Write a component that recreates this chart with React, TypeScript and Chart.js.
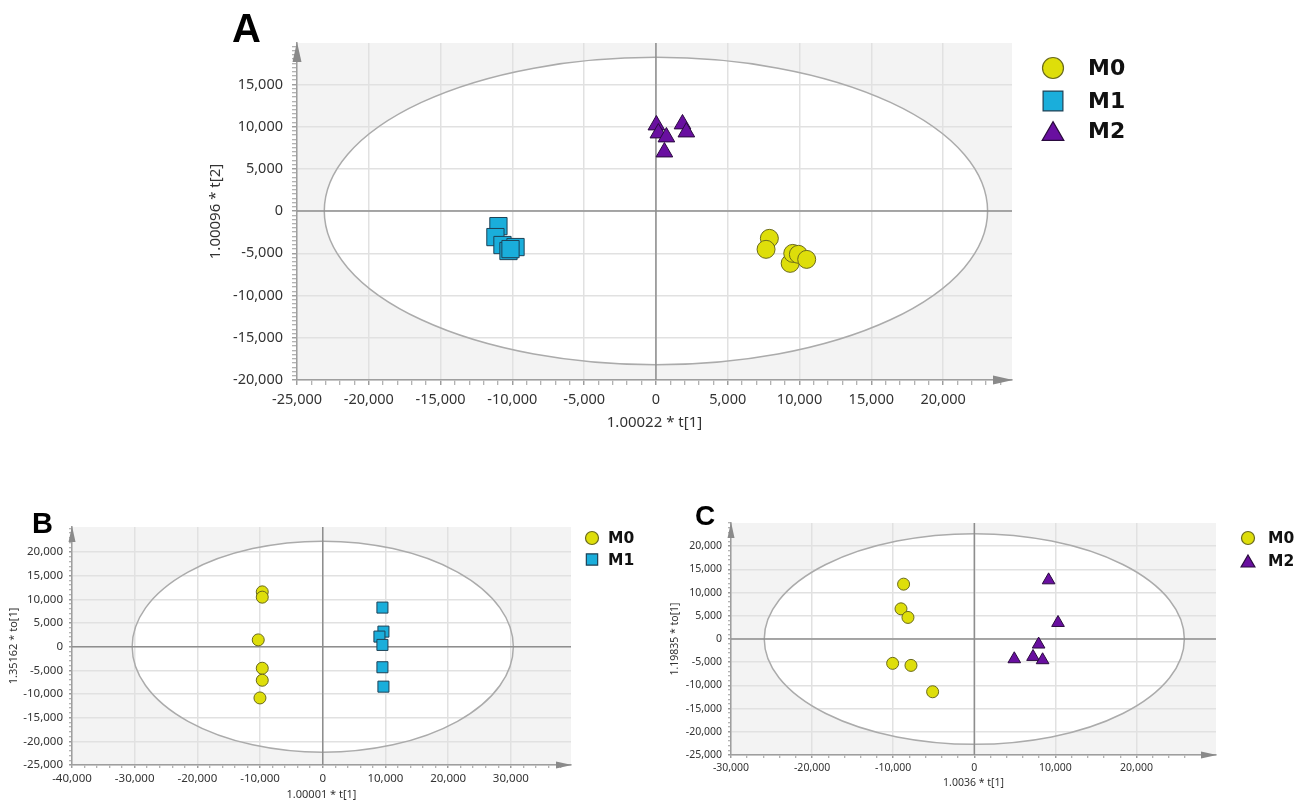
import React, { useEffect, useRef } from 'react';
import { Chart, registerables } from 'chart.js';

Chart.register(...registerables);

const W = 1302;
const H = 802;

// ---------- Panel A : PCA scores, t[1] vs t[2] ----------
const A_M0_X = [7900, 7670, 9350, 9530, 9920, 10500];
const A_M0_Y = [-3230, -4530, -6190, -5010, -5120, -5720];
const A_M1_X = [-10970, -11180, -10690, -10270, -9780, -10130];
const A_M1_Y = [-1780, -3080, -4020, -4730, -4260, -4500];
const A_M2_X = [30, 170, 730, 590, 1850, 2120];
const A_M2_Y = [10180, 9230, 8760, 6980, 10300, 9350];
const A_X_TICKS = [-25000, -20000, -15000, -10000, -5000, 0, 5000, 10000, 15000, 20000];
const A_Y_TICKS = [-20000, -15000, -10000, -5000, 0, 5000, 10000, 15000];
const A_ELLIPSE = [23100, 18200];

// ---------- Panel B : OPLS-DA M0 vs M1 ----------
const B_M0_X = [-9650, -9650, -10290, -9650, -9650, -10020];
const B_M0_Y = [11590, 10470, 1440, -4550, -7090, -10830];
const B_M1_X = [9520, 9680, 9040, 9520, 9520, 9680];
const B_M1_Y = [8270, 3190, 2140, 380, -4340, -8440];
const B_X_TICKS = [-40000, -30000, -20000, -10000, 0, 10000, 20000, 30000];
const B_Y_TICKS = [-25000, -20000, -15000, -10000, -5000, 0, 5000, 10000, 15000, 20000];
const B_ELLIPSE = [30400, 22300];

// ---------- Panel C : OPLS-DA M0 vs M2 ----------
const C_M0_X = [-8720, -9040, -8180, -10070, -7810, -5140];
const C_M0_Y = [11820, 6500, 4650, -5250, -5690, -11370];
const C_M2_X = [9160, 10320, 7930, 7240, 8420, 4930];
const C_M2_Y = [12680, 3490, -1160, -3830, -4540, -4330];
const C_X_TICKS = [-30000, -20000, -10000, 0, 10000, 20000];
const C_Y_TICKS = [-25000, -20000, -15000, -10000, -5000, 0, 5000, 10000, 15000, 20000];
const C_ELLIPSE = [25900, 22700];

const YELLOW = { fill: '#dede0a', stroke: '#6a6a1c' };
const CYAN = { fill: '#1aaedb', stroke: '#1d4156' };
const PURPLE = { fill: '#690fa0', stroke: '#2a0b3e' };

type Shape = 'circle' | 'rect' | 'triangle';
type Series = { label: string; xs: number[]; ys: number[]; style: Shape; fill: string; stroke: string; r: number; lr: number };
type Panel = {
  letter: string; letterX: number; letterY: number; letterSize: number;
  left: number; right: number; top: number; bottom: number;
  xMin: number; xMax: number; yMin: number; yMax: number; xMinor: number; yMinor: number;
  xTicks: number[]; yTicks: number[]; ellipse: number[];
  tickFont: number; tickLen: number; xPad: number; yPad: number; arrowLen: number; arrowHalf: number;
  xTitle: string; yTitle: string; titleFont: number; xTitleY: number; yTitleX: number;
  legendX: number; legendTextX: number; legendYs: number[]; legendFont: number;
  series: Series[];
};

const PANELS: Panel[] = [
  {
    letter: 'A', letterX: 232, letterY: 42, letterSize: 40,
    left: 297, right: 1012, top: 43, bottom: 380,
    xMin: -25000, xMax: 24800, yMin: -20000, yMax: 19900, xMinor: 1000, yMinor: 500,
    xTicks: A_X_TICKS, yTicks: A_Y_TICKS, ellipse: A_ELLIPSE,
    tickFont: 14.5, tickLen: 5, xPad: 6, yPad: 9, arrowLen: 19, arrowHalf: 4.5,
    xTitle: '1.00022 * t[1]', yTitle: '1.00096 * t[2]', titleFont: 15, xTitleY: 423, yTitleX: 216,
    legendX: 1053, legendTextX: 1088, legendYs: [68, 101, 131], legendFont: 22,
    series: [
      { label: 'M0', xs: A_M0_X, ys: A_M0_Y, style: 'circle', ...YELLOW, r: 9, lr: 10.5 },
      { label: 'M1', xs: A_M1_X, ys: A_M1_Y, style: 'rect', ...CYAN, r: 12.2, lr: 14 },
      { label: 'M2', xs: A_M2_X, ys: A_M2_Y, style: 'triangle', ...PURPLE, r: 9.6, lr: 12.5 },
    ],
  },
  {
    letter: 'B', letterX: 32, letterY: 533, letterSize: 29,
    left: 72, right: 571, top: 527, bottom: 765,
    xMin: -40000, xMax: 39600, yMin: -25000, yMax: 25300, xMinor: 2000, yMinor: 1000,
    xTicks: B_X_TICKS, yTicks: B_Y_TICKS, ellipse: B_ELLIPSE,
    tickFont: 11.5, tickLen: 3, xPad: 4, yPad: 6, arrowLen: 15, arrowHalf: 3.5,
    xTitle: '1.00001 * t[1]', yTitle: '1.35162 * to[1]', titleFont: 11, xTitleY: 795, yTitleX: 14,
    legendX: 592, legendTextX: 608, legendYs: [538, 559.5], legendFont: 15.5,
    series: [
      { label: 'M0', xs: B_M0_X, ys: B_M0_Y, style: 'circle', ...YELLOW, r: 6, lr: 6.5 },
      { label: 'M1', xs: B_M1_X, ys: B_M1_Y, style: 'rect', ...CYAN, r: 7.8, lr: 8 },
    ],
  },
  {
    letter: 'C', letterX: 695, letterY: 525, letterSize: 28,
    left: 731, right: 1216, top: 523, bottom: 755,
    xMin: -30000, xMax: 29800, yMin: -25000, yMax: 25000, xMinor: 2000, yMinor: 1000,
    xTicks: C_X_TICKS, yTicks: C_Y_TICKS, ellipse: C_ELLIPSE,
    tickFont: 10.5, tickLen: 3, xPad: 4, yPad: 6, arrowLen: 15, arrowHalf: 3.5,
    xTitle: '1.0036 * t[1]', yTitle: '1.19835 * to[1]', titleFont: 10.5, xTitleY: 783, yTitleX: 675,
    legendX: 1248, legendTextX: 1268, legendYs: [538, 561], legendFont: 15.5,
    series: [
      { label: 'M0', xs: C_M0_X, ys: C_M0_Y, style: 'circle', ...YELLOW, r: 6, lr: 6.5 },
      { label: 'M2', xs: C_M2_X, ys: C_M2_Y, style: 'triangle', ...PURPLE, r: 7.3, lr: 8 },
    ],
  },
];

const TICK_FAMILY = '"Noto Sans", "Open Sans", sans-serif';

function drawShape(ctx: CanvasRenderingContext2D, style: Shape, x: number, y: number, r: number) {
  ctx.beginPath();
  if (style === 'circle') {
    ctx.arc(x, y, r, 0, Math.PI * 2);
  } else if (style === 'rect') {
    const s = r * Math.SQRT1_2;
    ctx.rect(x - s, y - s, 2 * s, 2 * s);
  } else {
    const h = r * 0.75;
    const w = (r * Math.sqrt(3)) / 2;
    ctx.moveTo(x, y - h);
    ctx.lineTo(x + w, y + h);
    ctx.lineTo(x - w, y + h);
    ctx.closePath();
  }
}

function buildChart(canvas: HTMLCanvasElement, p: Panel) {
  const yW = Math.min(100, p.left);
  const xH = 30;
  const xMaj = new Set(p.xTicks);
  const yMaj = new Set(p.yTicks);
  const minorTicks = (min: number, max: number, step: number) => {
    const a: { value: number }[] = [];
    for (let v = Math.ceil(min / step) * step; v <= max; v += step) a.push({ value: v });
    return a;
  };
  const fmt = (v: number) => v.toLocaleString('en-US');

  const decor = {
    id: 'decor' + p.letter,
    beforeDraw(chart: any) {
      const { ctx, chartArea: a, scales } = chart;
      const xs = scales.x, ys = scales.y;
      ctx.save();
      ctx.fillStyle = '#f3f3f3';
      ctx.fillRect(a.left, a.top, a.right - a.left, a.bottom - a.top);
      const cx = xs.getPixelForValue(0), cy = ys.getPixelForValue(0);
      const rx = Math.abs(xs.getPixelForValue(p.ellipse[0]) - cx);
      const ry = Math.abs(ys.getPixelForValue(p.ellipse[1]) - cy);
      ctx.beginPath();
      ctx.ellipse(cx, cy, rx, ry, 0, 0, Math.PI * 2);
      ctx.fillStyle = '#ffffff';
      ctx.fill();
      ctx.restore();
    },
    beforeDatasetsDraw(chart: any) {
      const { ctx, chartArea: a, scales } = chart;
      const xs = scales.x, ys = scales.y;
      const cx = xs.getPixelForValue(0), cy = ys.getPixelForValue(0);
      const rx = Math.abs(xs.getPixelForValue(p.ellipse[0]) - cx);
      const ry = Math.abs(ys.getPixelForValue(p.ellipse[1]) - cy);
      ctx.save();
      ctx.beginPath();
      ctx.ellipse(cx, cy, rx, ry, 0, 0, Math.PI * 2);
      ctx.strokeStyle = '#ababab';
      ctx.lineWidth = 1.5;
      ctx.stroke();
      ctx.strokeStyle = '#8e8e8e';
      ctx.lineWidth = 1.5;
      ctx.beginPath();
      ctx.moveTo(cx, a.top);
      ctx.lineTo(cx, a.bottom);
      ctx.moveTo(a.left, cy);
      ctx.lineTo(a.right, cy);
      ctx.stroke();
      ctx.fillStyle = '#8a8a8a';
      ctx.beginPath();
      ctx.moveTo(a.left, a.top - 1);
      ctx.lineTo(a.left + p.arrowHalf, a.top + p.arrowLen);
      ctx.lineTo(a.left - p.arrowHalf, a.top + p.arrowLen);
      ctx.closePath();
      ctx.fill();
      ctx.beginPath();
      ctx.moveTo(a.right + 1, a.bottom);
      ctx.lineTo(a.right - p.arrowLen, a.bottom - p.arrowHalf);
      ctx.lineTo(a.right - p.arrowLen, a.bottom + p.arrowHalf);
      ctx.closePath();
      ctx.fill();
      ctx.restore();
    },
    afterDraw(chart: any) {
      const { ctx, chartArea: a } = chart;
      ctx.save();
      // panel letter
      ctx.fillStyle = '#000';
      ctx.textAlign = 'left';
      ctx.textBaseline = 'alphabetic';
      ctx.font = `bold ${p.letterSize}px "Liberation Sans", Arial, sans-serif`;
      ctx.fillText(p.letter, p.letterX, p.letterY);
      // axis titles
      ctx.fillStyle = '#333';
      ctx.font = `${p.titleFont}px ${TICK_FAMILY}`;
      ctx.textAlign = 'center';
      ctx.textBaseline = 'middle';
      ctx.fillText(p.xTitle, (a.left + a.right) / 2, p.xTitleY);
      ctx.save();
      ctx.translate(p.yTitleX, (a.top + a.bottom) / 2);
      ctx.rotate(-Math.PI / 2);
      ctx.fillText(p.yTitle, 0, 0);
      ctx.restore();
      // legend
      chart.data.datasets.forEach((ds: any, i: number) => {
        const s = p.series[i];
        const y = p.legendYs[i];
        drawShape(ctx, s.style, p.legendX, y, s.lr);
        ctx.fillStyle = s.fill;
        ctx.fill();
        ctx.lineWidth = 1.2;
        ctx.strokeStyle = s.stroke;
        ctx.stroke();
        ctx.fillStyle = '#111';
        ctx.textAlign = 'left';
        ctx.textBaseline = 'middle';
        ctx.font = `bold ${p.legendFont}px "DejaVu Sans", sans-serif`;
        ctx.fillText(ds.label, p.legendTextX, y + 1);
      });
      ctx.restore();
    },
  };

  const gridFor = (maj: Set<number>) => ({
    display: true,
    drawOnChartArea: true,
    drawTicks: true,
    tickLength: p.tickLen,
    lineWidth: 1.5,
    color: (c: any) => (c.tick && maj.has(c.tick.value) ? '#e1e1e1' : 'rgba(0,0,0,0)'),
    tickColor: '#9a9a9a',
    tickWidth: (c: any) => (c.tick && maj.has(c.tick.value) ? 1.4 : 1),
  });

  return new Chart(canvas, {
    type: 'scatter',
    data: {
      datasets: p.series.map((s) => ({
        label: s.label,
        data: s.xs.map((v, i) => ({ x: v, y: s.ys[i] })),
        pointStyle: s.style,
        pointRadius: s.r,
        pointHoverRadius: s.r,
        pointBackgroundColor: s.fill,
        pointBorderColor: s.stroke,
        pointBorderWidth: 1,
        backgroundColor: s.fill,
        borderColor: s.stroke,
        showLine: false,
      })),
    },
    options: {
      responsive: false,
      animation: false,
      events: [],
      layout: {
        padding: { left: p.left - yW, right: W - p.right, top: p.top, bottom: H - p.bottom - xH },
      },
      plugins: { legend: { display: false }, tooltip: { enabled: false } },
      scales: {
        x: {
          type: 'linear',
          min: p.xMin,
          max: p.xMax,
          afterBuildTicks: (s: any) => { s.ticks = minorTicks(p.xMin, p.xMax, p.xMinor); },
          afterFit: (s: any) => { s.height = xH; },
          ticks: {
            autoSkip: false, maxRotation: 0, minRotation: 0, padding: p.xPad, color: '#333',
            font: { family: TICK_FAMILY, size: p.tickFont },
            callback: (v: any) => (xMaj.has(Number(v)) ? fmt(Number(v)) : ''),
          },
          grid: gridFor(xMaj),
          border: { display: true, color: '#9e9e9e', width: 1.5 },
        },
        y: {
          type: 'linear',
          min: p.yMin,
          max: p.yMax,
          afterBuildTicks: (s: any) => { s.ticks = minorTicks(p.yMin, p.yMax, p.yMinor); },
          afterFit: (s: any) => { s.width = yW; },
          ticks: {
            autoSkip: false, padding: p.yPad, color: '#333',
            font: { family: TICK_FAMILY, size: p.tickFont },
            callback: (v: any) => (yMaj.has(Number(v)) ? fmt(Number(v)) : ''),
          },
          grid: gridFor(yMaj),
          border: { display: true, color: '#9e9e9e', width: 1.5 },
        },
      },
    } as any,
    plugins: [decor],
  });
}

export default function App() {
  const refs = [useRef<HTMLCanvasElement>(null), useRef<HTMLCanvasElement>(null), useRef<HTMLCanvasElement>(null)];
  useEffect(() => {
    const charts = PANELS.map((p, i) => buildChart(refs[i].current as HTMLCanvasElement, p));
    return () => charts.forEach((c) => c.destroy());
  }, []);
  return (
    <div style={{ position: 'absolute', left: 0, top: 0, width: W, height: H, background: '#fff', overflow: 'hidden' }}>
      {PANELS.map((p, i) => (
        <canvas
          key={p.letter}
          ref={refs[i]}
          width={W}
          height={H}
          style={{ position: 'absolute', left: 0, top: 0, width: W, height: H }}
        />
      ))}
    </div>
  );
}
